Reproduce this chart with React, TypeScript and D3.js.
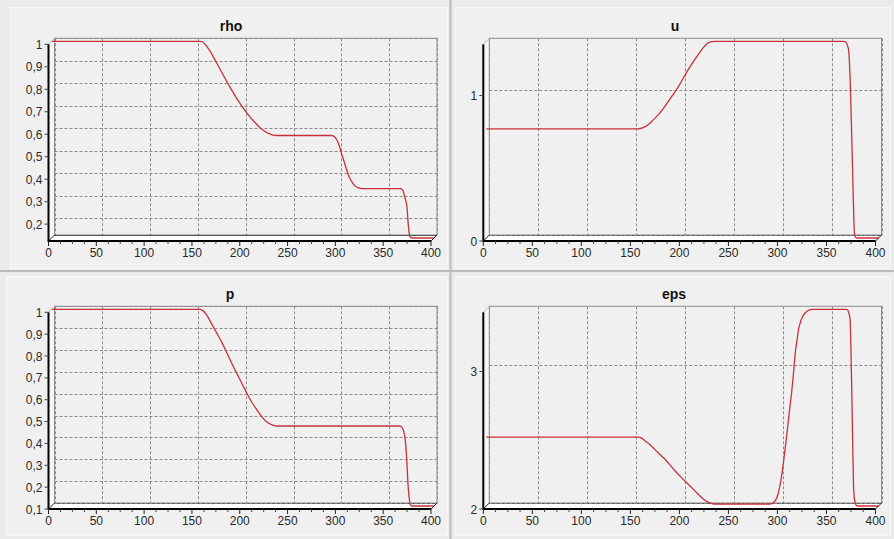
import React, { useEffect, useRef } from "react";
import * as d3 from "d3";

const rhoData: [number, number][] = [
  [0, 1], [155, 1], [158, 0.997], [162, 0.98], [166, 0.955], [170, 0.925], [175, 0.886],
  [180, 0.847], [186.5, 0.797], [194, 0.744], [202, 0.694], [212, 0.642], [221, 0.605],
  [228, 0.588], [235, 0.581], [293, 0.581],
  [296, 0.575], [298.5, 0.56], [301, 0.535], [303, 0.505], [306, 0.465], [308.5, 0.43],
  [311, 0.4], [313.7, 0.378], [317, 0.358], [320.6, 0.349], [325, 0.345], [365, 0.345],
  [367, 0.34], [369, 0.315], [370.5, 0.29], [371.8, 0.262], [372.8, 0.2], [373.9, 0.15],
  [375, 0.13], [376.5, 0.125], [400, 0.125],
];

const uData: [number, number][] = [
  [0, 0.75], [155, 0.75], [160, 0.758], [165.3, 0.78], [170, 0.81], [175.5, 0.848],
  [180.5, 0.89], [185.7, 0.94], [191, 0.99], [195.9, 1.04], [201, 1.1], [206.1, 1.159],
  [211, 1.21], [216.3, 1.262], [221.5, 1.31], [226.5, 1.343], [230, 1.35], [234, 1.352],
  [364, 1.352], [366.5, 1.345], [368, 1.33], [369.4, 1.297], [370.3, 1.22], [371.1, 1.09],
  [372.3, 0.8], [373.5, 0.49], [374.5, 0.22], [375.5, 0.03], [376.5, 0.005], [378, 0],
  [400, 0],
];

const pData: [number, number][] = [
  [0, 1], [155, 1], [158, 0.995], [162.2, 0.975], [167, 0.937], [172.6, 0.893], [178, 0.85],
  [183, 0.805], [188, 0.758], [193.5, 0.709], [199, 0.662], [204, 0.618], [209, 0.578],
  [214.4, 0.542], [220, 0.508], [224.9, 0.485], [230, 0.472], [235.3, 0.466], [364, 0.466],
  [366.5, 0.46], [368.3, 0.443], [370, 0.4], [371.2, 0.336], [372, 0.27], [372.8, 0.2],
  [374, 0.14], [375.3, 0.106], [377, 0.1], [400, 0.1],
];

const epsData: [number, number][] = [
  [0, 2.5], [155, 2.5], [158, 2.495], [162, 2.473], [167, 2.445], [172.1, 2.41], [177, 2.375],
  [182.3, 2.34], [187.5, 2.297], [192.6, 2.254], [197.7, 2.217], [202.8, 2.18], [208, 2.144],
  [213, 2.108], [218, 2.072], [223.2, 2.04], [228, 2.022], [233.4, 2.013], [289.3, 2.013],
  [293, 2.025], [296.3, 2.06], [299, 2.13], [301.4, 2.23], [304, 2.37], [306.5, 2.52],
  [309, 2.68], [311.6, 2.84], [313.5, 2.98], [315, 3.107], [317, 3.21], [318.4, 3.28],
  [321, 3.35], [323.5, 3.388], [327, 3.415], [332, 3.43], [367.7, 3.43], [369.5, 3.41],
  [371.1, 3.35], [372, 3.1], [372.9, 2.77], [373.7, 2.45], [374.5, 2.156], [375.5, 2.05],
  [377, 2.008], [378.5, 2], [400, 2],
];

const xTicks = [0, 50, 100, 150, 200, 250, 300, 350, 400];
const rhoTicks = [0.2, 0.3, 0.4, 0.5, 0.6, 0.7, 0.8, 0.9, 1];
const uTicks = [0, 1];
const pTicks = [0.1, 0.2, 0.3, 0.4, 0.5, 0.6, 0.7, 0.8, 0.9, 1];
const epsTicks = [2, 3];

const panels = [
  { title: "rho", data: rhoData, ticks: rhoTicks, left: 48.5, right: 431, top: 44.3, bottom: 241, titleX: 231, titleY: 31 },
  { title: "u", data: uData, ticks: uTicks, left: 483.3, right: 875.5, top: 44.3, bottom: 241, titleX: 675, titleY: 31 },
  { title: "p", data: pData, ticks: pTicks, left: 48.5, right: 431, top: 312.3, bottom: 509, titleX: 230, titleY: 299 },
  { title: "eps", data: epsData, ticks: epsTicks, left: 483.3, right: 875.5, top: 312.3, bottom: 509, titleX: 674, titleY: 299 },
];

const W = 894;
const H = 539;
const D = 6; // 3D depth of the chart walls
const FONT = "'Liberation Sans', Arial, sans-serif";

const fmt = d3.formatLocale({ decimal: ",", thousands: " ", grouping: [3], currency: ["", ""] }).format("~g");

export default function App() {
  const ref = useRef<SVGSVGElement>(null);

  useEffect(() => {
    const svg = d3.select(ref.current);
    svg.selectAll("*").remove();

    // background and panel frames
    svg.append("rect").attr("width", W).attr("height", H).attr("fill", "#ebebeb");
    const frames = [
      [10, 7, 437, 261],
      [455, 7, 435, 261],
      [6, 276, 441, 259],
      [455, 276, 435, 259],
    ];
    frames.forEach(([x, y, w, h]) => {
      svg.append("rect")
        .attr("x", x + 0.5).attr("y", y + 0.5).attr("width", w).attr("height", h)
        .attr("fill", "#f0f0f0").attr("stroke", "#f8f8f8");
    });
    svg.append("line").attr("x1", 450.5).attr("x2", 450.5).attr("y1", 0).attr("y2", H)
      .attr("stroke", "#bcbcbc").attr("stroke-width", 2);
    svg.append("line").attr("x1", 0).attr("x2", W).attr("y1", 271).attr("y2", 271)
      .attr("stroke", "#bcbcbc").attr("stroke-width", 2);

    panels.forEach(p => {
      const g = svg.append("g");
      const x = d3.scaleLinear().domain([0, 400]).range([p.left, p.right]);
      const ext = d3.extent(p.data, d => d[1]) as [number, number];
      const y = d3.scaleLinear().domain(ext).range([p.bottom, p.top]);
      const { left, right, top, bottom } = p;

      // floor and left wall
      g.append("polygon")
        .attr("points", [[left, bottom], [left + D, bottom - D], [right + D, bottom - D], [right, bottom]].join(" "))
        .attr("fill", "#ffffff");
      g.append("polygon")
        .attr("points", [[left, top], [left + D, top - D], [left + D, bottom - D], [left, bottom]].join(" "))
        .attr("fill", "#f6f6f6");

      // back wall border
      g.append("rect")
        .attr("x", left + D).attr("y", top - D)
        .attr("width", right - left).attr("height", bottom - top)
        .attr("fill", "none").attr("stroke", "#8c8c8c");
      g.append("line")
        .attr("x1", left + D).attr("x2", right + D)
        .attr("y1", bottom - D + 0.5).attr("y2", bottom - D + 0.5)
        .attr("stroke", "#555");

      // grid on back wall
      g.selectAll(".vgrid").data(xTicks).enter().append("line")
        .attr("x1", d => Math.round(x(d) + D) + 0.5).attr("x2", d => Math.round(x(d) + D) + 0.5)
        .attr("y1", top - D).attr("y2", bottom - D)
        .attr("stroke", "#8a8a8a").attr("stroke-dasharray", "3,2");
      g.selectAll(".hgrid").data(p.ticks).enter().append("line")
        .attr("x1", left + D).attr("x2", right + D)
        .attr("y1", d => Math.round(y(d) - D) + 0.5).attr("y2", d => Math.round(y(d) - D) + 0.5)
        .attr("stroke", "#8a8a8a").attr("stroke-dasharray", "3,2");

      // series, drawn at half depth
      const line = d3.line<[number, number]>()
        .x(d => x(d[0]) + D / 2)
        .y(d => y(d[1]) - D / 2)
        .curve(d3.curveMonotoneX);
      g.append("path")
        .datum(p.data)
        .attr("d", line)
        .attr("fill", "none")
        .attr("stroke", "#c8303a")
        .attr("stroke-width", 1.3);

      // 3D edges
      g.append("line").attr("x1", left).attr("y1", top).attr("x2", left + D).attr("y2", top - D)
        .attr("stroke", "#b8b8b8");
      g.append("line").attr("x1", left).attr("y1", bottom).attr("x2", left + D).attr("y2", bottom - D)
        .attr("stroke", "#222");
      g.append("line").attr("x1", right).attr("y1", bottom).attr("x2", right + D).attr("y2", bottom - D)
        .attr("stroke", "#222");

      // front axes
      g.append("line").attr("x1", left).attr("x2", left).attr("y1", top).attr("y2", bottom + 1)
        .attr("stroke", "#000").attr("stroke-width", 2);
      g.append("line").attr("x1", left).attr("x2", right).attr("y1", bottom).attr("y2", bottom)
        .attr("stroke", "#000").attr("stroke-width", 2);

      // x ticks and labels
      const minor = d3.range(0, 400, 12.5).filter(v => v % 50 !== 0);
      g.selectAll(".xminor").data(minor).enter().append("line")
        .attr("x1", d => x(d)).attr("x2", d => x(d))
        .attr("y1", bottom).attr("y2", bottom + 3)
        .attr("stroke", "#444");
      g.selectAll(".xtick").data(xTicks).enter().append("line")
        .attr("x1", d => x(d)).attr("x2", d => x(d))
        .attr("y1", bottom).attr("y2", bottom + 5)
        .attr("stroke", "#222");
      g.selectAll(".xlabel").data(xTicks).enter().append("text")
        .attr("x", d => x(d)).attr("y", bottom + 16)
        .attr("text-anchor", "middle")
        .attr("font-family", FONT).attr("font-size", 12).attr("fill", "#2a2a2a")
        .text(d => String(d));

      // y ticks and labels
      g.selectAll(".ytick").data(p.ticks).enter().append("line")
        .attr("x1", left - 4).attr("x2", left)
        .attr("y1", d => y(d)).attr("y2", d => y(d))
        .attr("stroke", "#444");
      g.selectAll(".ylabel").data(p.ticks).enter().append("text")
        .attr("x", left - 6).attr("y", d => y(d) + 4.5)
        .attr("text-anchor", "end")
        .attr("font-family", FONT).attr("font-size", 12).attr("fill", "#2a2a2a")
        .text(d => fmt(d));

      // title
      g.append("text")
        .attr("x", p.titleX).attr("y", p.titleY)
        .attr("text-anchor", "middle")
        .attr("font-family", FONT).attr("font-size", 14).attr("font-weight", "bold")
        .attr("fill", "#111")
        .text(p.title);
    });
  }, []);

  return (
    <svg
      ref={ref}
      width={W}
      height={H}
      style={{ position: "absolute", left: 0, top: 0, display: "block" }}
    />
  );
}
